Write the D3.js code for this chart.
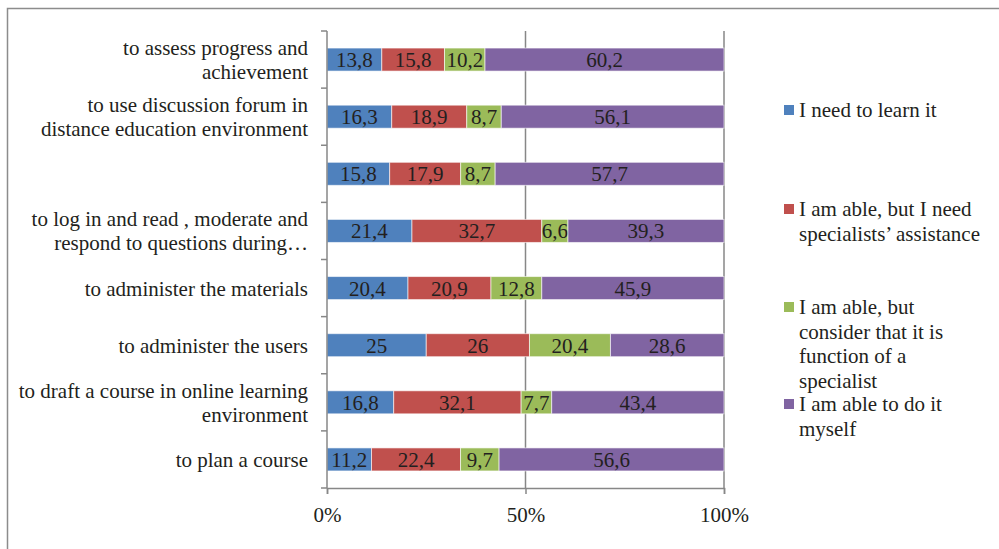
<!DOCTYPE html>
<html>
<head>
<meta charset="utf-8">
<script src="https://cdn.jsdelivr.net/npm/d3@7"></script>
<style>
  body { margin: 0; background: #fff; }
  svg text { font-family: 'Liberation Serif', Tinos, 'Times New Roman', Times, 'DejaVu Serif', serif; fill: #231f20; }
</style>
</head>
<body>
<div id="chart"></div>
<script>
// categories top to bottom, label lines split with |
const categories = [
    'to assess progress and|achievement',
    'to use discussion forum in|distance education environment',
    '',
    'to log in and read , moderate and|respond to questions during…',
    'to administer the materials',
    'to administer the users',
    'to draft a course in online learning|environment',
    'to plan a course'
];
const seriesNames = ['I need to learn it', 'I am able, but I need specialists’ assistance',
    'I am able, but consider that it is function of a specialist', 'I am able to do it myself'];
const legendLines = [
    ['I need to learn it'],
    ['I am able, but I need', 'specialists’ assistance'],
    ['I am able, but', 'consider that it is', 'function of a', 'specialist'],
    ['I am able to do it', 'myself']
];
const needToLearn = [13.8, 16.3, 15.8, 21.4, 20.4, 25, 16.8, 11.2];
const ableWithHelp = [15.8, 18.9, 17.9, 32.7, 20.9, 26, 32.1, 22.4];
const specialistFunction = [10.2, 8.7, 8.7, 6.6, 12.8, 20.4, 7.7, 9.7];
const ableMyself = [60.2, 56.1, 57.7, 39.3, 45.9, 28.6, 43.4, 56.6];
const xTicks = [0, 0.5, 1];

const colors = ['#4f81bd', '#c0504d', '#9bbb59', '#8064a2'];
const serif = "'Liberation Serif', Tinos, 'Times New Roman', Times, 'DejaVu Serif', serif";
const width = 999;
const height = 549;
const plot = { left: 327, right: 724, top: 31, bottom: 488 };

const rows = categories.map(function(c, i) {
    return { idx: i, s0: needToLearn[i], s1: ableWithHelp[i], s2: specialistFunction[i], s3: ableMyself[i] };
});
const keys = ['s0', 's1', 's2', 's3'];
const stacked = d3.stack().keys(keys).offset(d3.stackOffsetExpand)(rows);

const xScale = d3.scaleLinear().domain([0, 1]).range([plot.left, plot.right]);
const yScale = d3.scaleBand()
    .domain(categories.map(function(c, i) { return i; }))
    .range([plot.top, plot.bottom])
    .paddingInner(0.597)
    .paddingOuter(0.2985);

const svg = d3.select('#chart').append('svg')
    .attr('width', width)
    .attr('height', height)
    .attr('font-family', serif);

// outer frame
svg.append('rect')
    .attr('x', 7.5).attr('y', 8.5)
    .attr('width', 1000).attr('height', 560)
    .attr('fill', 'none')
    .attr('stroke', '#8c8c8c')
    .attr('stroke-width', 1.5);

// gridlines
svg.append('g')
    .selectAll('line')
    .data(xTicks.slice(1))
    .enter()
    .append('line')
    .attr('x1', function(d) { return xScale(d); })
    .attr('x2', function(d) { return xScale(d); })
    .attr('y1', plot.top)
    .attr('y2', plot.bottom)
    .attr('stroke', '#878787')
    .attr('stroke-width', 1.5);

// bars
const layer = svg.append('g')
    .selectAll('g')
    .data(stacked)
    .enter()
    .append('g')
    .attr('fill', function(d, i) { return colors[i]; });

layer.selectAll('rect')
    .data(function(d) { return d; })
    .enter()
    .append('rect')
    .attr('x', function(d) { return xScale(d[0]); })
    .attr('y', function(d) { return yScale(d.data.idx); })
    .attr('width', function(d) { return xScale(d[1]) - xScale(d[0]); })
    .attr('height', yScale.bandwidth())
    .attr('stroke', 'rgba(255,255,255,0.6)')
    .attr('stroke-width', 1);

layer.selectAll('text')
    .data(function(d) { return d.map(function(p) { return { p: p, key: d.key }; }); })
    .enter()
    .append('text')
    .attr('x', function(d) { return (xScale(d.p[0]) + xScale(d.p[1])) / 2; })
    .attr('y', function(d) { return yScale(d.p.data.idx) + yScale.bandwidth() / 2; })
    .attr('dy', '0.36em')
    .attr('text-anchor', 'middle')
    .style('font-family', serif)
    .style('font-size', '21px')
    .text(function(d) { return String(d.p.data[d.key]).replace('.', ','); });

// x axis
const xAxis = d3.axisBottom(xScale)
    .tickValues(xTicks)
    .tickFormat(d3.format('.0%'))
    .tickSize(6)
    .tickPadding(13);

const gx = svg.append('g')
    .attr('transform', 'translate(0,' + plot.bottom + ')')
    .call(xAxis)
    .attr('font-family', serif);
gx.select('.domain').attr('stroke', '#878787').attr('stroke-width', 1.5);
gx.selectAll('.tick line').attr('stroke', '#878787').attr('stroke-width', 1.5);
gx.selectAll('.tick text')
    .style('font-family', serif)
    .style('font-size', '21px')
    .attr('fill', '#231f20');

// y axis line with ticks on band boundaries
const step = yScale.step();
const bounds = d3.range(categories.length + 1).map(function(i) { return plot.top + i * step; });
svg.append('line')
    .attr('x1', plot.left).attr('x2', plot.left)
    .attr('y1', plot.top).attr('y2', plot.bottom)
    .attr('stroke', '#878787').attr('stroke-width', 1.5);
svg.append('g')
    .selectAll('line')
    .data(bounds)
    .enter()
    .append('line')
    .attr('x1', plot.left - 6).attr('x2', plot.left)
    .attr('y1', function(d) { return d; }).attr('y2', function(d) { return d; })
    .attr('stroke', '#878787').attr('stroke-width', 1.5);

// category labels
const lineH = 24;
const catLabel = svg.append('g')
    .selectAll('text')
    .data(categories)
    .enter()
    .append('text')
    .attr('text-anchor', 'end')
    .style('font-family', serif)
    .style('font-size', '21px')
    .attr('y', function(d, i) {
        const n = d.split('|').length;
        return yScale(i) + yScale.bandwidth() / 2 + 7.5 - (n - 1) * lineH / 2;
    });
catLabel.each(function(d) {
    const t = d3.select(this);
    const y0 = +t.attr('y');
    d.split('|').forEach(function(l, j) {
        t.append('tspan').attr('x', 308).attr('y', y0 + j * lineH).text(l);
    });
});

// legend
const legendY = [110, 209, 307, 404];
const legend = svg.append('g')
    .selectAll('g')
    .data(seriesNames)
    .enter()
    .append('g')
    .attr('transform', function(d, i) { return 'translate(784,' + legendY[i] + ')'; });
legend.append('rect')
    .attr('x', 0).attr('y', -5)
    .attr('width', 10).attr('height', 10)
    .attr('fill', function(d, i) { return colors[i]; });
legend.append('text')
    .style('font-family', serif)
    .style('font-size', '21px')
    .each(function(d, i) {
        const t = d3.select(this);
        legendLines[i].forEach(function(l, j) {
            t.append('tspan').attr('x', 15).attr('y', 7 + j * 24.5).text(l);
        });
    });
</script>
</body>
</html>
